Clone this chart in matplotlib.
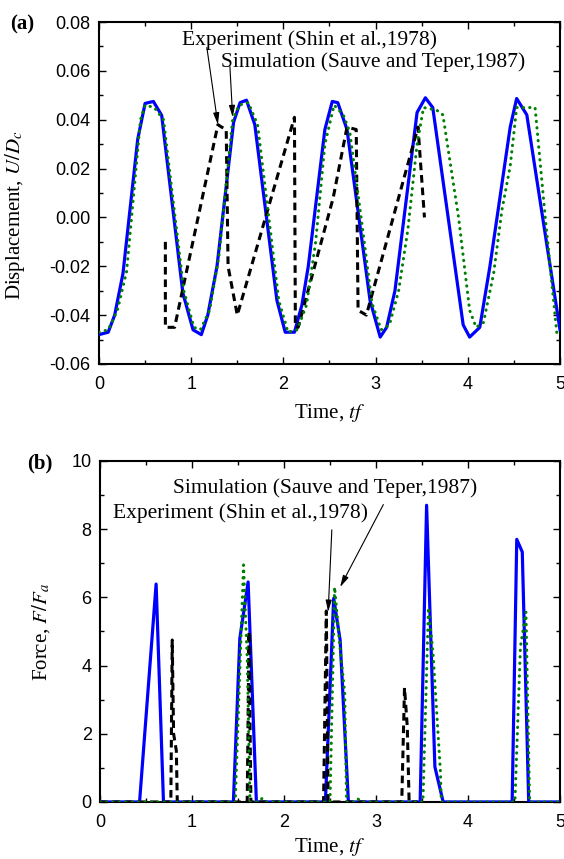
import matplotlib
matplotlib.use("Agg")
import matplotlib.pyplot as plt
from matplotlib.ticker import MultipleLocator

plt.rcParams['font.family'] = ['Liberation Sans', 'DejaVu Sans']
plt.rcParams['mathtext.fontset'] = 'stix'
plt.rcParams['axes.unicode_minus'] = False

# ---- (a) displacement ----
t_blue_a = [0.0, 0.1, 0.17, 0.26, 0.42, 0.50, 0.59, 0.68, 0.91, 1.02, 1.11, 1.18, 1.28,
            1.46, 1.53, 1.60, 1.69, 1.93, 2.02, 2.12, 2.20, 2.27, 2.45, 2.53, 2.59, 2.69,
            2.94, 3.05, 3.12, 3.21, 3.45, 3.54, 3.62, 3.95, 4.02, 4.13, 4.24, 4.46, 4.53,
            4.64, 5.0]
u_blue_a = [-0.048, -0.047, -0.040, -0.023, 0.032, 0.0467, 0.0475, 0.0418, -0.031, -0.046,
            -0.048, -0.040, -0.020, 0.039, 0.047, 0.048, 0.038, -0.034, -0.047, -0.047,
            -0.036, -0.020, 0.036, 0.0475, 0.047, 0.036, -0.034, -0.049, -0.045, -0.030,
            0.043, 0.049, 0.045, -0.044, -0.049, -0.045, -0.020, 0.037, 0.0487, 0.042, -0.046]

t_green_a = [0.0, 0.1, 0.2, 0.3, 0.45, 0.5, 0.6, 0.7, 0.92, 1.03, 1.1, 1.2, 1.3, 1.45,
             1.52, 1.62, 1.72, 1.95, 2.05, 2.15, 2.25, 2.35, 2.45, 2.55, 2.65, 2.72, 2.86,
             2.96, 3.06, 3.15, 3.25, 3.35, 3.45, 3.52, 3.66, 3.73, 3.9, 4.02, 4.09, 4.17,
             4.28, 4.37, 4.46, 4.53, 4.73, 4.84, 4.97]
u_green_a = [-0.047, -0.046, -0.038, -0.022, 0.040, 0.046, 0.045, 0.040, -0.030, -0.045,
             -0.046, -0.038, -0.016, 0.040, 0.046, 0.047, 0.038, -0.034, -0.047, -0.046,
             -0.036, -0.010, 0.030, 0.046, 0.042, 0.035, -0.005, -0.035, -0.046, -0.044,
             -0.030, -0.005, 0.030, 0.045, 0.044, 0.042, 0.0, -0.038, -0.045, -0.043,
             -0.023, 0.003, 0.021, 0.045, 0.045, 0.0, -0.049]

t_exp_a = [0.72, 0.72, 0.82, 1.29, 1.33, 1.38, 1.40, 1.50, 2.12, 2.13, 2.16, 2.54, 2.69,
           2.79, 2.81, 2.90, 3.46, 3.53]
u_exp_a = [-0.010, -0.045, -0.045, 0.038, 0.037, 0.036, -0.020, -0.040, 0.041, -0.045,
           -0.045, 0.008, 0.037, 0.036, -0.038, -0.040, 0.037, 0.0]

# ---- (b) force ----
t_blue_b = [0.0, 0.43, 0.61, 0.69, 1.45, 1.52, 1.61, 1.70, 2.45, 2.54, 2.61, 2.70,
            3.48, 3.55, 3.64, 3.73, 4.48, 4.53, 4.59, 4.66, 5.0]
f_blue_b = [0, 0, 6.39, 0, 0, 4.8, 6.45, 0, 0, 5.97, 4.75, 0,
            0, 8.7, 1.03, 0, 0, 7.7, 7.33, 0, 0]

t_green_b = [0.0, 1.47, 1.56, 1.60, 1.61, 1.63, 1.72, 1.76, 1.80, 2.50, 2.55, 2.61,
             2.66, 2.68, 2.76, 2.80, 2.84, 3.51, 3.57, 3.62, 3.70, 3.71, 4.51, 4.57,
             4.63, 4.67, 5.0]
f_green_b = [0, 0, 6.95, 4.2, 3.0, 0, 0, 0.1, 0, 0, 6.3, 4.5,
             3.2, 0, 0, 0.1, 0, 0, 5.7, 4.35, 0.9, 0, 0, 4.55,
             5.57, 0, 0]

t_exp_b = [0.0, 0.77, 0.785, 0.80, 0.83, 0.84, 1.60, 1.62, 1.64, 2.43, 2.46, 2.48,
           3.28, 3.31, 3.34, 3.36, 3.45]
f_exp_b = [0, 0, 4.75, 2.0, 1.5, 0, 0, 5.0, 0, 0, 5.6, 0,
           0, 3.35, 2.2, 0, 0]

lab_exp = "Experiment (Shin et al.,1978)"
lab_sim = "Simulation (Sauve and Teper,1987)"

fig = plt.figure(figsize=(5.64, 8.59), dpi=100)
ax1 = fig.add_axes([0.1755, 0.5763, 0.8174, 0.398])
ax2 = fig.add_axes([0.1773, 0.0664, 0.8156, 0.397])

blue_kw = dict(color='#0000ff', lw=2.3, zorder=3)
exp_kw = dict(color='black', lw=2.2, linestyle=(0, (2.5, 1.6)), zorder=4)
sim_kw = dict(color='#008000', lw=2.2, linestyle=(0, (0.1, 2.0)),
              dash_capstyle='round', zorder=5)

ax1.plot(t_blue_a, u_blue_a, **blue_kw)
ax1.plot(t_exp_a, u_exp_a, **exp_kw)
ax1.plot(t_green_a, u_green_a, **sim_kw)

ax2.plot(t_blue_b, f_blue_b, **blue_kw)
ax2.plot(t_exp_b, f_exp_b, **exp_kw)
ax2.plot(t_green_b, f_green_b, **sim_kw)

serif = ['Liberation Serif', 'DejaVu Serif']
arrow = dict(arrowstyle='-|>,head_length=0.7,head_width=0.18', color='black', lw=0.8,
             shrinkA=0, shrinkB=0)

# arrows from the labels to the curves
ax1.annotate('', xy=(1.29, 0.038), xytext=(1.17, 0.0696), arrowprops=arrow)
ax1.annotate('', xy=(1.45, 0.041), xytext=(1.42, 0.0618), arrowprops=arrow)
ax1.text(2.28, 0.0725, lab_exp, family=serif, fontsize=15.5, ha='center', va='center')
ax1.text(2.97, 0.0635, lab_sim, family=serif, fontsize=15.5, ha='center', va='center')

ax2.annotate('', xy=(2.48, 5.57), xytext=(2.52, 7.98), arrowprops=arrow)
ax2.annotate('', xy=(2.61, 6.3), xytext=(3.08, 8.72), arrowprops=arrow)
ax2.text(2.45, 9.2, lab_sim, family=serif, fontsize=15.5, ha='center', va='center')
ax2.text(1.53, 8.47, lab_exp, family=serif, fontsize=15.5, ha='center', va='center')

ax1.set_xlim(0, 5)
ax1.set_ylim(-0.06, 0.08)
ax1.yaxis.set_major_locator(MultipleLocator(0.02))
ax1.yaxis.set_minor_locator(MultipleLocator(0.01))
ax1.yaxis.set_major_formatter(plt.FormatStrFormatter('%.2f'))

ax2.set_xlim(0, 5)
ax2.set_ylim(0, 10)
ax2.yaxis.set_major_locator(MultipleLocator(2))
ax2.yaxis.set_minor_locator(MultipleLocator(1))

for ax in (ax1, ax2):
    ax.xaxis.set_major_locator(MultipleLocator(1))
    ax.xaxis.set_minor_locator(MultipleLocator(0.5))
    ax.tick_params(which='both', direction='in', top=True, right=True, labelsize=13)
    ax.tick_params(which='major', length=5, width=1.0, pad=6)
    ax.tick_params(axis='x', which='major', pad=9)
    ax.tick_params(which='minor', length=2.8, width=1.0)
    for s in ax.spines.values():
        s.set_linewidth(1.5)

ax1.set_xlabel('Time, $\\mathit{tf}$', family=serif, fontsize=15, labelpad=6)
ax2.set_xlabel('Time, $\\mathit{tf}$', family=serif, fontsize=15, labelpad=3)

ax1.set_ylabel('Displacement, $U/D_c$', family=serif, fontsize=15)
ax1.yaxis.set_label_coords(-0.156, 0.436)
ax2.set_ylabel('Force, $F/F_a$', family=serif, fontsize=15)
ax2.yaxis.set_label_coords(-0.104, 0.5)

fig.text(22 / 564, 1 - 24 / 859, '(a)', family=serif, fontweight='bold', fontsize=15,
         ha='center', va='center')
fig.text(40 / 564, 1 - 463 / 859, '(b)', family=serif, fontweight='bold', fontsize=15,
         ha='center', va='center')

fig.savefig('out.png', dpi=100)
